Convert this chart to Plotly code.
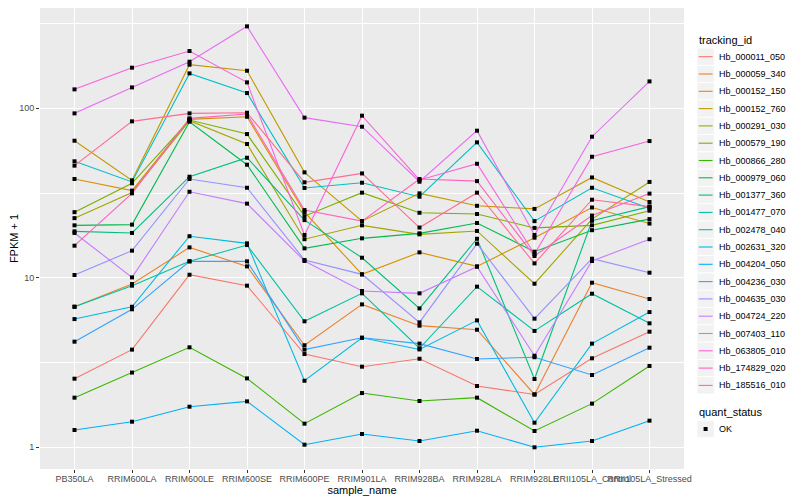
import plotly.graph_objects as go

samples = ["PB350LA", "RRIM600LA", "RRIM600LE", "RRIM600SE", "RRIM600PE", "RRIM901LA",
           "RRIM928BA", "RRIM928LA", "RRIM928LE", "RRII105LA_Control", "RRII105LA_Stressed"]

tracking_ids = ["Hb_000011_050", "Hb_000059_340", "Hb_000152_150", "Hb_000152_760",
                "Hb_000291_030", "Hb_000579_190", "Hb_000866_280", "Hb_000979_060",
                "Hb_001377_360", "Hb_001477_070", "Hb_002478_040", "Hb_002631_320",
                "Hb_004204_050", "Hb_004236_030", "Hb_004635_030", "Hb_004724_220",
                "Hb_007403_110", "Hb_063805_010", "Hb_174829_020", "Hb_185516_010"]

colors = ["#F8766D", "#EA8331", "#D89000", "#C09B00", "#A3A500", "#7CAE00", "#39B600",
          "#00BB4E", "#00BF7D", "#00C1A3", "#00BFC4", "#00BAE0", "#00B0F6", "#35A2FF",
          "#9590FF", "#C77CFF", "#E76BF3", "#FA62DB", "#FF62BC", "#FF6C91"]

hb_000011_050 = [2.54, 3.77, 10.43, 8.99, 3.55, 2.99, 3.33, 2.30, 2.05, 3.35, 4.81]
hb_000059_340 = [6.75, 9.19, 15.12, 11.68, 4.00, 6.97, 5.22, 4.94, 2.05, 9.36, 7.50]
hb_000152_150 = [38.3, 32.7, 86.1, 89.2, 24.4, 10.48, 14.13, 11.68, 17.25, 26.0, 20.9]
hb_000152_760 = [64.4, 37.6, 180.9, 166.7, 41.9, 21.6, 31.5, 26.6, 25.5, 39.1, 28.0]
hb_000291_030 = [22.5, 31.9, 84.5, 61.6, 16.9, 20.4, 18.05, 18.9, 9.23, 22.2, 36.8]
hb_000579_190 = [24.4, 36.1, 85.3, 70.5, 23.1, 31.8, 24.2, 23.8, 19.7, 20.4, 24.9]
hb_000866_280 = [1.963, 2.76, 3.89, 2.55, 1.379, 2.09, 1.876, 1.963, 1.248, 1.81, 3.02]
hb_000979_060 = [20.4, 20.6, 83.4, 46.5, 14.92, 17.1, 18.3, 21.05, 14.26, 19.1, 22.2]
hb_001377_360 = [18.8, 18.4, 39.5, 51.1, 21.9, 13.14, 6.60, 17.0, 2.53, 21.7, 26.3]
hb_001477_070 = [6.75, 8.99, 12.51, 15.61, 5.54, 8.10, 3.84, 8.87, 4.86, 8.06, 5.39]
hb_002478_040 = [48.7, 36.8, 160.8, 123.1, 33.9, 36.4, 30.1, 63.0, 21.6, 34.0, 25.7]
hb_002631_320 = [5.71, 6.75, 17.6, 15.97, 2.47, 4.43, 3.78, 5.61, 1.397, 4.09, 6.28]
hb_004204_050 = [1.265, 1.416, 1.736, 1.867, 1.036, 1.198, 1.089, 1.253, 1.00, 1.089, 1.436]
hb_004236_030 = [4.20, 6.52, 12.51, 12.51, 3.77, 4.43, 4.09, 3.32, 3.40, 2.67, 3.87]
hb_004635_030 = [10.39, 14.46, 38.3, 34.0, 12.74, 10.48, 5.46, 15.9, 5.74, 12.97, 10.72]
hb_004724_220 = [18.4, 10.06, 32.2, 27.4, 12.57, 8.36, 8.10, 11.63, 3.47, 12.57, 16.9]
hb_007403_110 = [93.4, 132.9, 188.4, 304.5, 88.1, 77.9, 36.9, 73.8, 17.9, 68.0, 144.2]
hb_063805_010 = [129.4, 173.7, 217.8, 142.3, 17.9, 90.5, 37.8, 47.1, 13.82, 51.8, 64.1]
hb_174829_020 = [15.47, 31.5, 87.3, 92.5, 25.1, 21.6, 38.3, 37.2, 13.45, 23.3, 31.4]
hb_185516_010 = [45.9, 83.8, 93.4, 94.2, 36.6, 41.3, 19.8, 31.8, 12.17, 28.9, 26.3]

series = [hb_000011_050, hb_000059_340, hb_000152_150, hb_000152_760, hb_000291_030,
          hb_000579_190, hb_000866_280, hb_000979_060, hb_001377_360, hb_001477_070,
          hb_002478_040, hb_002631_320, hb_004204_050, hb_004236_030, hb_004635_030,
          hb_004724_220, hb_007403_110, hb_063805_010, hb_174829_020, hb_185516_010]

quant_status = "OK"
y_ticks = [1, 10, 100]
y_minor = [3.162, 31.62, 316.2]

FONT = "Liberation Sans, Arial, Helvetica, sans-serif"

# The page body has an 8px margin, so the figure is drawn 8px right/down.
OFF = 8
W, H = 800 - OFF, 500 - OFF
# plot area in figure pixels (layout only)
L, R, T, B = 40 - OFF, 684 - OFF, 0, 469 - OFF


def px_x(px):
    """page pixel x -> paper x"""
    return (px - OFF - L) / (R - L)


def px_y(py):
    """page pixel y -> paper y"""
    return (B - (py - OFF)) / (B - T)


fig = go.Figure()
for name, vals, col in zip(tracking_ids, series, colors):
    fig.add_trace(go.Scatter(x=samples, y=vals, mode="lines", name=name,
                             line=dict(color=col, width=1.1), showlegend=False,
                             hoverinfo="skip"))

all_x, all_y = [], []
for vals in series:
    all_x += samples
    all_y += vals
fig.add_trace(go.Scatter(x=all_x, y=all_y, mode="markers", name=quant_status,
                         marker=dict(symbol="square", size=4, color="black"),
                         showlegend=False, hoverinfo="skip"))

# ---- manual ggplot-style legends ----
shapes = []
annotations = []
key_x0, key_x1 = 697, 714.3
key_h = 17.28
text_x = 717

annotations.append(dict(x=px_x(697), y=px_y(40.5), xref="paper", yref="paper",
                        text="tracking_id", showarrow=False, xanchor="left",
                        yanchor="middle", font=dict(size=11, color="black", family=FONT)))
first_c = 56.7
for i, (name, col) in enumerate(zip(tracking_ids, colors)):
    c = first_c + i * 17.3
    shapes.append(dict(type="rect", xref="paper", yref="paper",
                       x0=px_x(key_x0), x1=px_x(key_x1),
                       y0=px_y(c - key_h / 2), y1=px_y(c + key_h / 2),
                       fillcolor="#F2F2F2", line=dict(color="white", width=0.8),
                       layer="above"))
    shapes.append(dict(type="line", xref="paper", yref="paper",
                       x0=px_x(698.7), x1=px_x(712.6), y0=px_y(c), y1=px_y(c),
                       line=dict(color=col, width=1.1), layer="above"))
    annotations.append(dict(x=px_x(text_x), y=px_y(c), xref="paper", yref="paper",
                            text=name, showarrow=False, xanchor="left", yanchor="middle",
                            font=dict(size=9, color="black", family=FONT)))

annotations.append(dict(x=px_x(697), y=px_y(412.3), xref="paper", yref="paper",
                        text="quant_status", showarrow=False, xanchor="left",
                        yanchor="middle", font=dict(size=11, color="black", family=FONT)))
c = 429
shapes.append(dict(type="rect", xref="paper", yref="paper",
                   x0=px_x(key_x0), x1=px_x(key_x1),
                   y0=px_y(c - key_h / 2), y1=px_y(c + key_h / 2),
                   fillcolor="#F2F2F2", line=dict(color="white", width=0.8), layer="above"))
shapes.append(dict(type="rect", xref="paper", yref="paper",
                   x0=px_x(703.6), x1=px_x(707.6), y0=px_y(c - 2), y1=px_y(c + 2),
                   fillcolor="black", line=dict(width=0), layer="above"))
annotations.append(dict(x=px_x(text_x), y=px_y(c), xref="paper", yref="paper",
                        text=quant_status, showarrow=False, xanchor="left", yanchor="middle",
                        font=dict(size=9, color="black", family=FONT)))

fig.update_layout(
    width=W, height=H,
    margin=dict(l=L, r=W - R, t=T, b=H - B, autoexpand=False),
    paper_bgcolor="white", plot_bgcolor="#EBEBEB",
    font=dict(family=FONT, color="black"),
    showlegend=False,
    shapes=shapes, annotations=annotations,
)

fig.update_xaxes(
    type="category", categoryorder="array", categoryarray=samples,
    range=[-0.6, 10.6], showgrid=True, gridcolor="white", gridwidth=1.1,
    zeroline=False, showline=False, ticks="outside", ticklen=3, tickcolor="#333333",
    tickangle=0, automargin=False, ticklabelstandoff=-2,
    tickfont=dict(size=9, color="#4D4D4D", family=FONT),
    title=dict(text="sample_name", font=dict(size=11, color="black"), standoff=0),
)
fig.update_yaxes(
    type="log", range=[-0.128, 2.592], tickmode="array", tickvals=y_ticks,
    ticktext=[str(v) for v in y_ticks], automargin=False,
    showgrid=True, gridcolor="white", gridwidth=1.1, zeroline=False, showline=False,
    ticks="outside", ticklen=3, tickcolor="#333333",
    tickfont=dict(size=9, color="#4D4D4D", family=FONT),
    minor=dict(tickmode="array", tickvals=y_minor, showgrid=True, gridcolor="white",
               gridwidth=0.55, ticks=""),
    title=dict(text="FPKM + 1", font=dict(size=11, color="black"), standoff=4),
)

fig.write_html("out.html")
